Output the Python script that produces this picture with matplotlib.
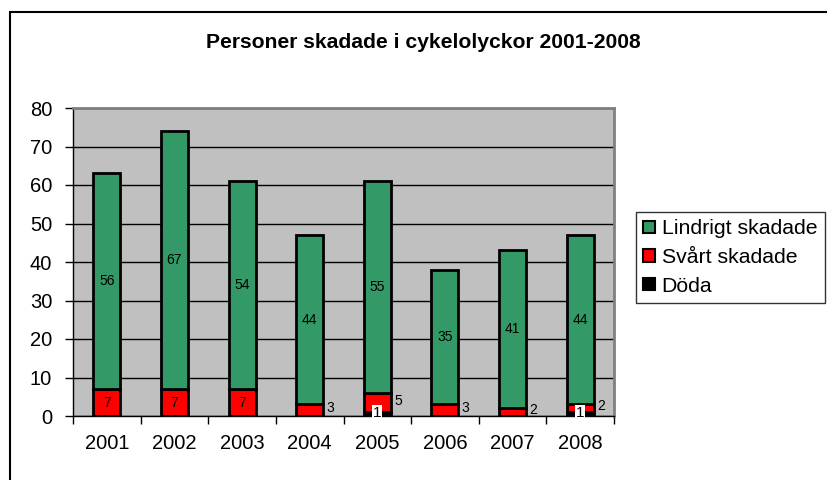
#!/usr/bin/env python

"""
Stacked bar chart: persons injured in bicycle accidents 2001-2008.
"""

import matplotlib
matplotlib.use('Agg')
import matplotlib.pyplot as plt
from matplotlib.patches import Rectangle
import numpy as np

plt.rcParams['font.family'] = ['Liberation Sans', 'DejaVu Sans']

# Data
YEARS = ['2001', '2002', '2003', '2004', '2005', '2006', '2007', '2008']
DODA = [0, 0, 0, 0, 1, 0, 0, 1]
SVART = [7, 7, 7, 3, 5, 3, 2, 2]
LINDRIGT = [56, 67, 54, 44, 55, 35, 41, 44]
YTICKS = [0, 10, 20, 30, 40, 50, 60, 70, 80]

GREEN = '#339966'
RED = '#FF0000'
GREY = '#C0C0C0'


def main():
    fig = plt.figure(figsize=(8.27, 4.8), dpi=100, facecolor='w')

    # outer chart border (runs off the right and bottom edge)
    fig.patches.append(Rectangle((10 / 827, -0.2), 1.2, 1.2 - 12 / 480,
                                 transform=fig.transFigure, fill=False,
                                 edgecolor='black', linewidth=1.5))

    ax = fig.add_axes([73 / 827, 1 - 416 / 480, 541 / 827, 308 / 480])
    ax.set_facecolor(GREY)

    x = np.arange(len(YEARS))
    doda = np.array(DODA)
    svart = np.array(SVART)
    lindrigt = np.array(LINDRIGT)
    w = 0.4

    b1 = ax.bar(x, doda, w, color='black', edgecolor='black', linewidth=2, zorder=3)
    b2 = ax.bar(x, svart, w, bottom=doda, color=RED, edgecolor='black',
                linewidth=2, zorder=3)
    b3 = ax.bar(x, lindrigt, w, bottom=doda + svart, color=GREEN,
                edgecolor='black', linewidth=2, zorder=3)

    # data labels
    for i in range(len(YEARS)):
        if doda[i] > 0:
            ax.text(x[i], doda[i] / 2 + 0.3, str(doda[i]), ha='center', va='center',
                    fontsize=11, color='black', zorder=5,
                    bbox=dict(facecolor='white', edgecolor='none', pad=0.6))
        mid = doda[i] + svart[i] / 2
        if svart[i] >= 6:
            ax.text(x[i], mid, str(svart[i]), ha='center', va='center',
                    fontsize=10, zorder=5)
        else:
            ax.text(x[i] + w / 2 + 0.05, mid + 0.5, str(svart[i]), ha='left',
                    va='center', fontsize=10, zorder=5)
        mid = doda[i] + svart[i] + lindrigt[i] / 2
        ax.text(x[i], mid, str(lindrigt[i]), ha='center', va='center',
                fontsize=10, zorder=5)

    ax.set_xlim(-0.5, len(YEARS) - 0.5)
    ax.set_ylim(0, 80)
    ax.set_yticks(YTICKS)
    ax.yaxis.grid(True, color='black', linewidth=1)
    ax.set_axisbelow(True)

    ax.set_xticks(x)
    ax.set_xticklabels(YEARS)
    ax.set_xticks(np.arange(len(YEARS) + 1) - 0.5, minor=True)
    ax.tick_params(axis='x', which='major', length=0, pad=13, labelsize=14.5)
    ax.tick_params(axis='x', which='minor', length=6, width=1, direction='out')
    ax.tick_params(axis='y', length=6, width=1, direction='out', pad=9,
                   labelsize=14.5)

    ax.spines['left'].set_color('black')
    ax.spines['bottom'].set_color('black')
    ax.spines['left'].set_linewidth(1)
    ax.spines['bottom'].set_linewidth(1)
    ax.spines['top'].set_color('#808080')
    ax.spines['right'].set_color('#808080')
    ax.spines['top'].set_linewidth(2)
    ax.spines['right'].set_linewidth(2)

    fig.text(423 / 827, 1 - 42 / 480, 'Personer skadade i cykelolyckor 2001-2008',
             ha='center', va='center', fontsize=15.2, fontweight='bold')

    leg = fig.legend([b3, b2, b1], ['Lindrigt skadade', 'Svårt skadade', 'Döda'],
                     loc='upper left', bbox_to_anchor=(636 / 827, 1 - 212 / 480),
                     fontsize=15.3, frameon=True, fancybox=False, shadow=False,
                     handlelength=0.55, handleheight=0.55, handletextpad=0.3,
                     labelspacing=0.45, borderpad=0.35, borderaxespad=0)
    leg.get_frame().set_edgecolor('black')
    leg.get_frame().set_linewidth(1)
    for h in leg.legend_handles:
        h.set_linewidth(1.5)

    fig.savefig('out.png', dpi=100, facecolor='w')


if __name__ == "__main__":
    main()
